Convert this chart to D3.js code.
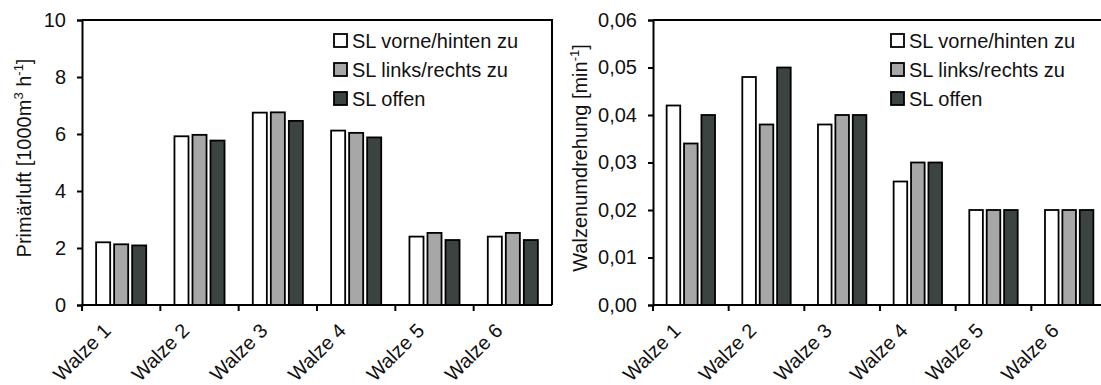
<!DOCTYPE html>
<html>
<head>
<meta charset="utf-8">
<script src="https://cdn.jsdelivr.net/npm/d3@7"></script>
<style>
  body { margin: 0; background: #fff; }
  svg text { font-family: "Liberation Sans", Arial, sans-serif; fill: #111; }
</style>
</head>
<body>
<svg id="chart" width="1101" height="385"></svg>
<script>
// Daten
var walzen = ["Walze 1", "Walze 2", "Walze 3", "Walze 4", "Walze 5", "Walze 6"];
var serien = ["SL vorne/hinten zu", "SL links/rechts zu", "SL offen"];
var farben = ["#ffffff", "#a6a7a6", "#3c4442"];

// Primärluft [1000 m3/h]
var luftVorne = [2.2, 5.92, 6.75, 6.12, 2.4, 2.4];
var luftLinks = [2.13, 5.97, 6.76, 6.04, 2.53, 2.53];
var luftOffen = [2.09, 5.77, 6.46, 5.88, 2.28, 2.28];
var luftTicks = [0, 2, 4, 6, 8, 10];

// Walzenumdrehung [1/min]
var drehVorne = [0.042, 0.048, 0.038, 0.026, 0.02, 0.02];
var drehLinks = [0.034, 0.038, 0.040, 0.030, 0.02, 0.02];
var drehOffen = [0.040, 0.050, 0.040, 0.030, 0.02, 0.02];
var drehTicks = [0, 0.01, 0.02, 0.03, 0.04, 0.05, 0.06];

var svg = d3.select("#chart");

function zeichne(opt) {
  var g = svg.append("g");

  var x0 = d3.scaleBand().domain(walzen).range([opt.x0, opt.x1]);
  var bw = x0.bandwidth();
  var x1 = d3.scaleBand().domain(serien)
      .range([-0.345 * bw, 0.345 * bw])
      .paddingInner(0.22).paddingOuter(0.11);
  var y = d3.scaleLinear().domain([0, opt.max]).range([opt.y0, opt.y1]);

  var werte = [opt.a, opt.b, opt.c];

  // Balken
  walzen.forEach(function (w, i) {
    var cx = x0(w) + bw / 2;
    serien.forEach(function (s, j) {
      var v = werte[j][i];
      g.append("rect")
        .attr("x", cx + x1(s))
        .attr("y", y(v))
        .attr("width", x1.bandwidth())
        .attr("height", y(0) - y(v))
        .attr("fill", farben[j])
        .attr("stroke", "#000")
        .attr("stroke-width", 1.8);
    });
  });

  // Rahmen oben + rechts
  g.append("path")
    .attr("d", "M" + opt.x0 + "," + opt.y1 + "H" + opt.x1 + "V" + opt.y0)
    .attr("fill", "none").attr("stroke", "#000").attr("stroke-width", 2);

  // y-Achse
  var yAxis = d3.axisLeft(y).tickValues(opt.ticks).tickSize(5).tickPadding(11)
      .tickFormat(opt.fmt);
  var ya = g.append("g").attr("transform", "translate(" + opt.x0 + ",0)").call(yAxis);
  ya.select(".domain").attr("stroke-width", 2);
  ya.selectAll(".tick line").attr("stroke-width", 2);
  ya.selectAll("text").style("font-size", "20px");

  // x-Achse (Striche an den Kategoriegrenzen)
  var xa = g.append("g");
  xa.append("line")
    .attr("x1", opt.x0).attr("x2", opt.x1)
    .attr("y1", opt.y0).attr("y2", opt.y0)
    .attr("stroke", "#000").attr("stroke-width", 2);
  walzen.forEach(function (w) {
    xa.append("line")
      .attr("x1", x0(w)).attr("x2", x0(w))
      .attr("y1", opt.y0).attr("y2", opt.y0 + 6)
      .attr("stroke", "#000").attr("stroke-width", 2);
    xa.append("text")
      .attr("transform", "translate(" + (x0(w) + bw / 2 - 9) + "," + (opt.y0 + 27) + ") rotate(-45)")
      .attr("text-anchor", "end")
      .style("font-size", "20px")
      .text(w);
  });

  // y-Titel
  var t = g.append("text")
    .attr("transform", "translate(" + opt.titelX + ",158) rotate(-90)")
    .attr("text-anchor", "middle")
    .style("font-size", "20px");
  opt.titel(t);

  // Legende
  var lg = g.append("g").attr("transform", "translate(" + opt.legX + "," + opt.legY + ")");
  serien.forEach(function (s, j) {
    lg.append("rect")
      .attr("x", 0).attr("y", j * 29 - 7)
      .attr("width", 13).attr("height", 13)
      .attr("fill", farben[j]).attr("stroke", "#000").attr("stroke-width", 1.8);
    lg.append("text")
      .attr("x", 18).attr("y", j * 29)
      .attr("dy", "0.36em")
      .style("font-size", "20px")
      .text(s);
  });
}

zeichne({
  x0: 82, x1: 552, y0: 305, y1: 20, max: 10,
  ticks: luftTicks, fmt: d3.format("d"),
  a: luftVorne, b: luftLinks, c: luftOffen,
  titelX: 31, legX: 334, legY: 41,
  titel: function (t) {
    t.append("tspan").text("Primärluft [1000m");
    t.append("tspan").attr("dy", -8).style("font-size", "13px").text("3");
    t.append("tspan").attr("dy", 8).text(" h");
    t.append("tspan").attr("dy", -8).style("font-size", "13px").text("-1");
    t.append("tspan").attr("dy", 8).text("]");
  }
});

zeichne({
  x0: 653, x1: 1107, y0: 305, y1: 20, max: 0.06,
  ticks: drehTicks, fmt: function (d) { return d3.format(".2f")(d).replace(".", ","); },
  a: drehVorne, b: drehLinks, c: drehOffen,
  titelX: 587, legX: 891, legY: 41,
  titel: function (t) {
    t.append("tspan").text("Walzenumdrehung [min");
    t.append("tspan").attr("dy", -8).style("font-size", "13px").text("-1");
    t.append("tspan").attr("dy", 8).text("]");
  }
});
</script>
</body>
</html>
